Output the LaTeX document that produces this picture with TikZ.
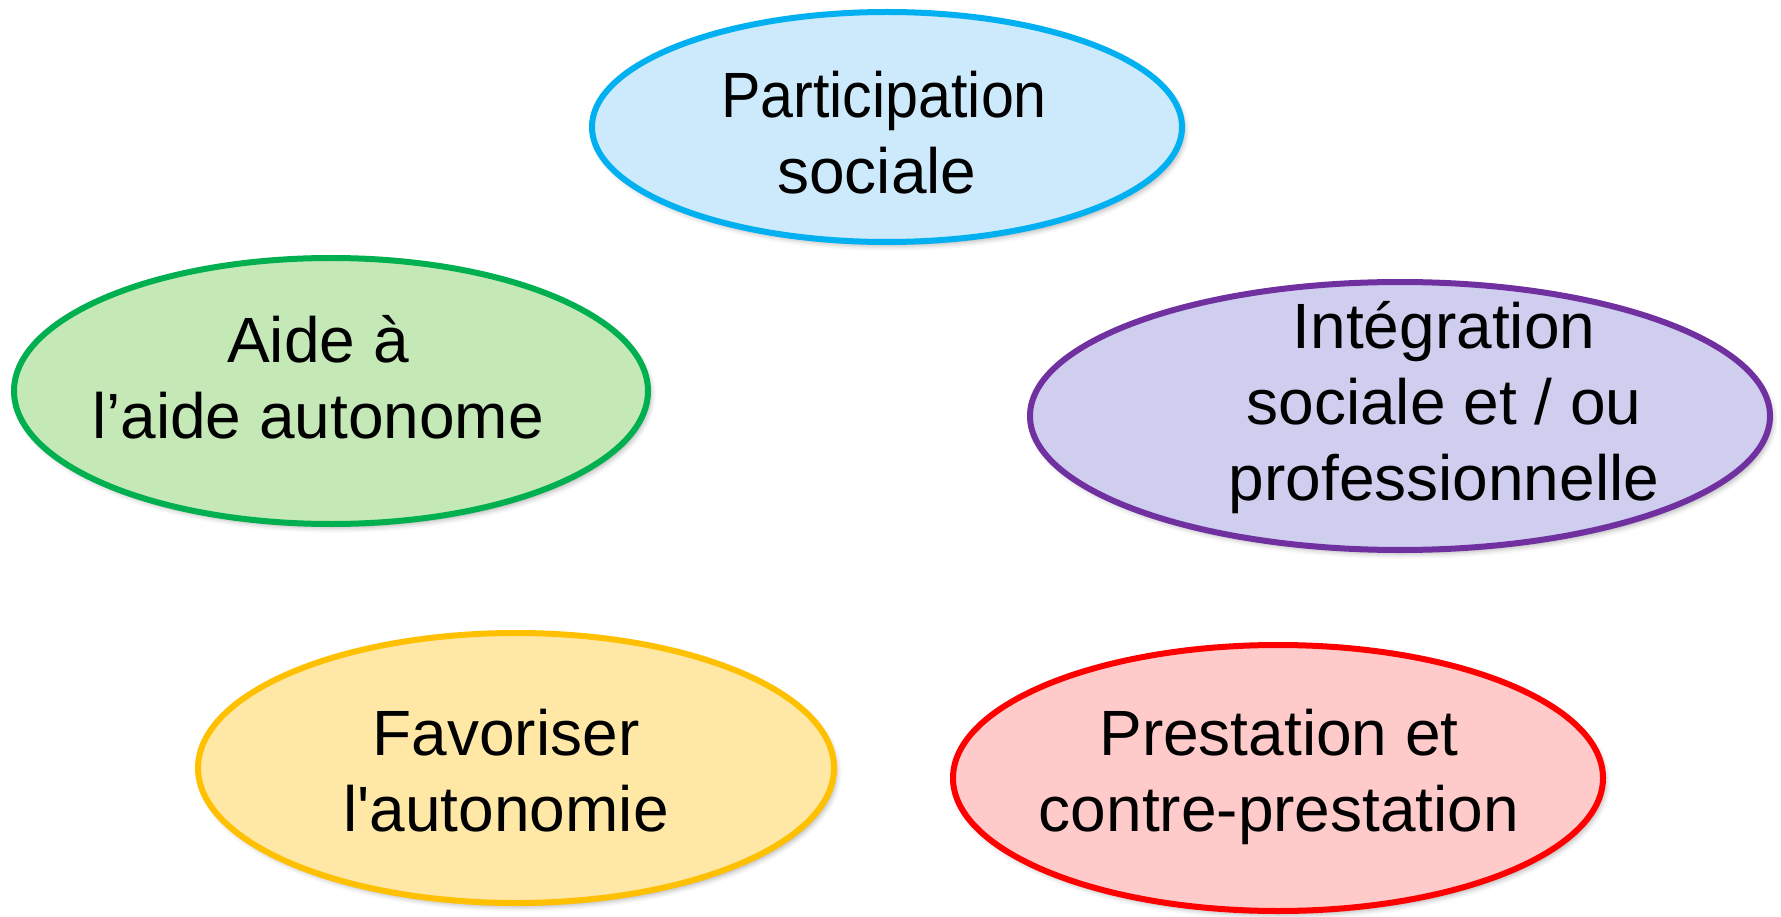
\documentclass[tikz,border=0pt]{standalone}
\usepackage{graphicx}
\usepackage{fontspec}
\setmainfont{Liberation Sans}[Ligatures=TeXOff]
\usetikzlibrary{shapes.geometric,shadows.blur}
\definecolor{blueB}{RGB}{0,176,240}
\definecolor{blueF}{RGB}{204,234,252}
\definecolor{greenB}{RGB}{0,176,80}
\definecolor{greenF}{RGB}{197,232,183}
\definecolor{purpB}{RGB}{112,48,160}
\definecolor{purpF}{RGB}{208,206,238}
\definecolor{yelB}{RGB}{255,192,0}
\definecolor{yelF}{RGB}{255,232,166}
\definecolor{redB}{RGB}{255,0,0}
\definecolor{redF}{RGB}{255,202,202}
\tikzset{
  oval/.style={ellipse, inner sep=0pt, line width=6pt,
    blur shadow={shadow xshift=3pt, shadow yshift=-4pt, shadow blur radius=5pt, shadow opacity=30}},
  label/.style={align=center, inner sep=0pt, font=\fontsize{64}{76}\selectfont}
}
\begin{document}
\begin{tikzpicture}[x=1pt,y=-1pt]
\useasboundingbox (0,0) rectangle (1781,917);
\node[oval, draw=blueB, fill=blueF, minimum width=590pt, minimum height=230pt] (e1) at (887,127) {};
\node[oval, draw=greenB, fill=greenF, minimum width=634pt, minimum height=266pt] (e2) at (331,391) {};
\node[oval, draw=purpB, fill=purpF, minimum width=740pt, minimum height=268pt] (e3) at (1400,416) {};
\node[oval, draw=yelB, fill=yelF, minimum width=636pt, minimum height=270pt] (e4) at (516,768) {};
\node[oval, draw=redB, fill=redF, minimum width=650pt, minimum height=266pt] (e5) at (1278,778) {};
\node[label] (t1) at (884,133) {\scalebox{0.925}[1]{Participation}\\sociale\kern14pt};
\node[label] (t2) at (318,377) {Aide à\\l’aide autonome};
\node[label] (t3) at (1444,408) {Intégration\\sociale et / ou\\professionnelle};
\node[label] (t4) at (506,771) {Favoriser\\l'autonomie};
\node[label] (t5) at (1279,777) {Prestation et\\contre-prestation};
\end{tikzpicture}
\end{document}
